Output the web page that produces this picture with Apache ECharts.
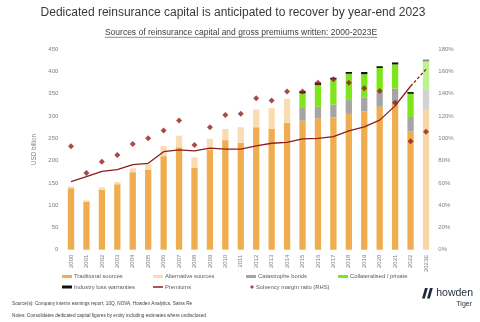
<!DOCTYPE html>
<html>
<head>
<meta charset="utf-8">
<script src="https://cdn.jsdelivr.net/npm/echarts@6/dist/echarts.min.js"></script>
<style>
  html, body { margin: 0; padding: 0; background: #fff; }
  #chart { width: 480px; height: 322px; }
</style>
</head>
<body>
<div id="chart"></div>
<script>
// Reinsurance capital by source (USD billion) and gross premiums written, 2000-2023E
const years = ['2000','2001','2002','2003','2004','2005','2006','2007','2008','2009','2010','2011',
               '2012','2013','2014','2015','2016','2017','2018','2019','2020','2021','2022','2023E'];

const traditional   = [138, 108, 135, 147, 174, 180, 210, 230, 184, 224, 246, 240,
                       275, 272, 285, 290, 295, 297, 305, 311, 321, 327, 266, 316];
const alternative   = [4, 3, 5, 5, 9, 12, 23, 26, 23, 25, 25, 35,
                       40, 46, 54, '-', '-', '-', '-', '-', '-', '-', '-', '-'];
const catBonds      = ['-','-','-','-','-','-','-','-','-','-','-','-',
                       '-','-','-', 30, 26, 29, 31, 30, 34, 35, 32, 43];
const collateral    = ['-','-','-','-','-','-','-','-','-','-','-','-',
                       '-','-','-', 31, 49, 57, 59, 53, 53, 54, 52, 64];
const ilw           = ['-','-','-','-','-','-','-','-','-','-','-','-',
                       '-','-','-', 5, 5, 3, 4, 5, 4, 4.5, 4, 4];

const premiums      = [153, 164, 176, 180, 191, 194, 220, 224, 222, 228, 226, 226,
                       233, 239, 241, 249, 250, 254, 267, 276, 291, 323, 367, 405];

// Solvency margin ratio, % (right-hand axis)
const solvency      = [93, 69, 79, 85, 95, 100, 107, 116, 94, 110, 121, 122,
                       136, 134, 142, 142, 150, 153, 150, 145, 142.5, 132, 97.5, 106];

const leftTicks  = { min: 0, max: 450, interval: 50 };
const rightTicks = { min: 0, max: 180, interval: 20 };

const estIndex = years.length - 1;   // 2023E is an estimate, drawn faded

function fadeLast(arr) {
  return arr.map((v, i) => (i === estIndex && v !== '-') ? { value: v, itemStyle: { opacity: 0.5 } } : v);
}

const FONT = 'Liberation Sans, Arial, sans-serif';
const GREY = '#595959';
const RED = '#8b1f1a';

// solid premiums line up to 2022, dashed segment into the estimate
const premiumsActual = premiums.map((v, i) => i < estIndex ? v : '-');
const premiumsEst = premiums.map((v, i) => i >= estIndex - 1 ? v : '-');

// underline width for the subtitle
const subtitle = 'Sources of reinsurance capital and gross premiums written: 2000-2023E';
const subFont = '8.5px ' + FONT;
const ctx = document.createElement('canvas').getContext('2d');
ctx.font = subFont;
const subW = ctx.measureText(subtitle).width;
const subX = 241, subY = 32.5;

function legendAt(name, left, top, icon, w, h) {
  return {
    data: [{ name: name, icon: icon }],
    left: left, top: top, padding: 0, itemGap: 0,
    itemWidth: w, itemHeight: h, selectedMode: false,
    textStyle: { fontFamily: FONT, fontSize: 5.8, color: GREY, padding: [0, 0, 0, -3] }
  };
}

const chart = echarts.init(document.getElementById('chart'), null, { renderer: 'canvas' });

chart.setOption({
  animation: false,
  backgroundColor: '#ffffff',
  grid: { left: 63.3, right: 46.3, top: 49.3, bottom: 72.3, containLabel: false },
  legend: [
    legendAt('Traditional sources', 62, 273.5, 'rect', 10, 3),
    legendAt('Alternative sources', 153, 273.5, 'rect', 10, 3),
    legendAt('Catastrophe bonds', 246, 273.5, 'rect', 10, 3),
    legendAt('Collateralised / private', 338, 273.5, 'rect', 10, 3),
    legendAt('Industry loss warranties', 62, 284, 'rect', 10, 3),
    legendAt('Premiums', 153, 284, 'rect', 10, 1.5),
    legendAt('Solvency margin ratio (RHS)', 250, 284, 'diamond', 4, 4)
  ],
  xAxis: {
    type: 'category',
    data: years,
    axisLine: { show: false },
    axisTick: { show: false },
    axisLabel: { rotate: 90, margin: 5, fontFamily: FONT, fontSize: 6, color: '#7f7f7f', interval: 0 }
  },
  yAxis: [
    {
      type: 'value', min: leftTicks.min, max: leftTicks.max, interval: leftTicks.interval,
      name: 'USD billion', nameLocation: 'middle', nameGap: 25, nameRotate: 90,
      nameTextStyle: { fontFamily: FONT, fontSize: 6.3, color: '#7f7f7f' },
      axisLine: { show: false }, axisTick: { show: false }, splitLine: { show: false },
      axisLabel: { margin: 5, fontFamily: FONT, fontSize: 6, color: '#7f7f7f' }
    },
    {
      type: 'value', min: rightTicks.min, max: rightTicks.max, interval: rightTicks.interval,
      position: 'right',
      axisLine: { show: false }, axisTick: { show: false }, splitLine: { show: false },
      axisLabel: { margin: 4.6, fontFamily: FONT, fontSize: 6, color: '#7f7f7f', formatter: '{value}%' }
    }
  ],
  series: [
    { name: 'Traditional sources', type: 'bar', stack: 'capital', barWidth: 6.3,
      itemStyle: { color: '#f0ad4f' }, data: fadeLast(traditional) },
    { name: 'Alternative sources', type: 'bar', stack: 'capital', barWidth: 6.3,
      itemStyle: { color: '#fadcb4' }, data: fadeLast(alternative) },
    { name: 'Catastrophe bonds', type: 'bar', stack: 'capital', barWidth: 6.3,
      itemStyle: { color: '#a5a5a5' }, data: fadeLast(catBonds) },
    { name: 'Collateralised / private', type: 'bar', stack: 'capital', barWidth: 6.3,
      itemStyle: { color: '#7fe61e' }, data: fadeLast(collateral) },
    { name: 'Industry loss warranties', type: 'bar', stack: 'capital', barWidth: 6.3,
      itemStyle: { color: '#111111' }, data: fadeLast(ilw) },
    { name: 'Premiums', type: 'line', data: premiumsActual, symbol: 'none', z: 5,
      lineStyle: { color: RED, width: 1.3 }, itemStyle: { color: RED } },
    { name: 'Premiums estimate', type: 'line', data: premiumsEst, symbol: 'none', z: 5,
      lineStyle: { color: RED, width: 1.3, type: [3, 2] }, itemStyle: { color: RED } },
    { name: 'Solvency margin ratio (RHS)', type: 'scatter', yAxisIndex: 1, data: solvency,
      symbol: 'diamond', symbolSize: 6, z: 6, itemStyle: { color: '#951c1c' } }
  ],
  graphic: [
    { type: 'text', x: 233, y: 13, style: {
        text: 'Dedicated reinsurance capital is anticipated to recover by year-end 2023',
        fontFamily: FONT, fontSize: 12, fill: '#3a3a3a', align: 'center', verticalAlign: 'middle' } },
    { type: 'text', x: subX, y: subY, style: {
        text: subtitle, font: subFont, fill: '#404040', align: 'center', verticalAlign: 'middle' } },
    { type: 'line', shape: { x1: subX - subW / 2, y1: subY + 4.8, x2: subX + subW / 2, y2: subY + 4.8 },
      style: { stroke: '#404040', lineWidth: 0.6 } },
    { type: 'text', x: 12, y: 304, style: {
        text: 'Source(s): Company interim earnings report, 10Q, NOVA, Howden Analytics, Swiss Re',
        fontFamily: FONT, fontSize: 4.7, fill: '#404040', verticalAlign: 'middle' } },
    { type: 'text', x: 12, y: 315.5, style: {
        text: 'Notes: Consolidates dedicated capital figures by entity including estimates where undisclosed.',
        fontFamily: FONT, fontSize: 4.7, fill: '#404040', verticalAlign: 'middle' } },
    // howden logo: two slanted bars plus wordmark
    { type: 'polygon', shape: { points: [[425, 288], [427.8, 288], [424.8, 298.5], [422, 298.5]] },
      style: { fill: '#1f2a3a' } },
    { type: 'polygon', shape: { points: [[430, 288], [432.8, 288], [429.8, 298.5], [427, 298.5]] },
      style: { fill: '#1f2a3a' } },
    { type: 'text', x: 473, y: 293, style: {
        text: 'howden', fontFamily: FONT, fontSize: 10.5, fill: '#1f2a3a', align: 'right', verticalAlign: 'middle' } },
    { type: 'text', x: 472, y: 304, style: {
        text: 'Tiger', fontFamily: FONT, fontSize: 7, fill: '#1f2a3a', align: 'right', verticalAlign: 'middle' } }
  ]
});
</script>
</body>
</html>
